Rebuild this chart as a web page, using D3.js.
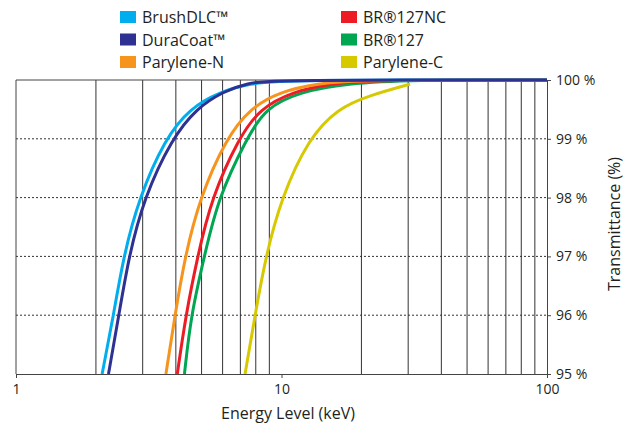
<!DOCTYPE html>
<html>
<head>
<meta charset="utf-8">
<script src="https://cdn.jsdelivr.net/npm/d3@7"></script>
<style>
  body { margin: 0; background: #fff; }
  text { font-family: "Open Sans", "Noto Sans", sans-serif; fill: #231f20; }
</style>
</head>
<body>
<script>
var width = 631,
    height = 428,
    margin = { top: 80, right: 84, bottom: 54, left: 16 };

// series names, in legend order (left column then right column)
var seriesNames = ["BrushDLC™", "DuraCoat™", "Parylene-N", "BR®127NC", "BR®127", "Parylene-C"];

// energy (keV) and transmittance (%)
var brushEnergy = [2.11, 2.33, 2.54, 2.91, 3.64, 4.52, 5.87, 7.61, 10.1, 100];
var brushTrans  = [95, 96, 97, 98, 99, 99.52, 99.80, 99.94, 100, 100];

var duraEnergy = [2.23, 2.44, 2.66, 3.04, 3.86, 4.79, 6.02, 7.41, 9.5, 100];
var duraTrans  = [95, 96, 97, 98, 99, 99.52, 99.80, 99.95, 100, 100];

var paryNEnergy = [3.67, 3.97, 4.33, 4.93, 6.18, 7.61, 9.87, 13.6, 19.8, 100];
var paryNTrans  = [95, 96, 97, 98, 99, 99.52, 99.80, 99.94, 100, 100];

var br127ncEnergy = [4.05, 4.36, 4.83, 5.46, 6.88, 8.30, 11.05, 15.2, 23.5, 100];
var br127ncTrans  = [95, 96, 97, 98, 99, 99.52, 99.80, 99.94, 100, 100];

var br127Energy = [4.31, 4.56, 5.12, 5.78, 7.39, 8.67, 11.74, 17.6, 30.5, 100];
var br127Trans  = [95, 96, 97, 98, 99, 99.52, 99.80, 99.94, 100, 100];

var paryCEnergy = [7.29, 7.95, 8.72, 10.0, 12.62, 16.3, 21.5, 30.5];
var paryCTrans  = [95, 96, 97, 98, 99, 99.52, 99.74, 99.93];

var xTicks = [1, 10, 100];
var yTicks = [95, 96, 97, 98, 99, 100];

var series = [
  { name: seriesNames[0], e: brushEnergy, t: brushTrans },
  { name: seriesNames[1], e: duraEnergy, t: duraTrans },
  { name: seriesNames[2], e: paryNEnergy, t: paryNTrans },
  { name: seriesNames[3], e: br127ncEnergy, t: br127ncTrans },
  { name: seriesNames[4], e: br127Energy, t: br127Trans },
  { name: seriesNames[5], e: paryCEnergy, t: paryCTrans }
];
var colors = ["#00aeef", "#2e3192", "#f7941d", "#ed1c24", "#00a651", "#d7c900"];

var svg = d3.select("body").append("svg")
    .attr("width", width)
    .attr("height", height);

var x = d3.scaleLog().domain([1, 100]).range([margin.left, width - margin.right]),
    y = d3.scaleLinear().domain([95, 100]).range([height - margin.bottom, margin.top]);

// vertical grid (minor decades)
var minor = d3.range(2, 10).concat(d3.range(20, 100, 10));
svg.append("g").selectAll("line")
    .data(minor)
  .enter().append("line")
    .attr("x1", function(d) { return x(d); })
    .attr("x2", function(d) { return x(d); })
    .attr("y1", y(95))
    .attr("y2", y(100))
    .attr("stroke", "#333")
    .attr("stroke-width", 1);

// horizontal dotted grid
svg.append("g").selectAll("line")
    .data([96, 97, 98, 99])
  .enter().append("line")
    .attr("x1", x(1))
    .attr("x2", x(100))
    .attr("y1", function(d) { return y(d); })
    .attr("y2", function(d) { return y(d); })
    .attr("stroke", "#333")
    .attr("stroke-width", 1)
    .attr("stroke-dasharray", "2,2");

// frame: left and top
svg.append("path")
    .attr("d", "M" + x(1) + "," + y(95) + "V" + y(100) + "H" + x(100))
    .attr("fill", "none")
    .attr("stroke", "#444")
    .attr("stroke-width", 1);

// curves
var line = d3.line()
    .x(function(d) { return x(d[0]); })
    .y(function(d) { return y(d[1]); })
    .curve(d3.curveBasis);

var drawOrder = [5, 4, 3, 2, 0, 1];
svg.append("g").selectAll("path")
    .data(drawOrder)
  .enter().append("path")
    .attr("d", function(i) { return line(d3.zip(series[i].e, series[i].t)); })
    .attr("fill", "none")
    .attr("stroke", function(i) { return colors[i]; })
    .attr("stroke-width", 3);

// axes
var xAxis = svg.append("g")
    .attr("transform", "translate(0," + y(95) + ")")
    .call(d3.axisBottom(x).tickValues(xTicks).tickFormat(d3.format("d")).tickSize(4).tickSizeOuter(0));
xAxis.select(".domain").attr("stroke", "#444");
xAxis.selectAll(".tick line").attr("stroke", "#444");
xAxis.selectAll("text").attr("font-size", 14).attr("dy", "0.95em").attr("fill", "#231f20");

var yAxis = svg.append("g")
    .attr("transform", "translate(" + x(100) + ",0)")
    .call(d3.axisRight(y).tickValues(yTicks).tickFormat(function(d) { return d + " %"; }).tickSize(4).tickSizeOuter(0));
yAxis.select(".domain").attr("stroke", "#444");
yAxis.selectAll(".tick line").attr("stroke", "#444");
yAxis.selectAll("text").attr("font-size", 14).attr("x", 9).attr("fill", "#231f20");

svg.append("text")
    .attr("x", 288)
    .attr("y", 419)
    .attr("text-anchor", "middle")
    .attr("font-size", 16)
    .text("Energy Level (keV)");

svg.append("text")
    .attr("transform", "translate(620,224) rotate(-90)")
    .attr("text-anchor", "middle")
    .attr("font-size", 16)
    .text("Transmittance (%)");

// legend
var legend = svg.append("g").selectAll("g")
    .data(series)
  .enter().append("g")
    .attr("transform", function(d, i) {
      return "translate(" + (i < 3 ? 120 : 341) + "," + (17 + (i % 3) * 22.5) + ")";
    });
legend.append("rect")
    .attr("x", 0).attr("y", -6)
    .attr("width", 16).attr("height", 12)
    .attr("fill", function(d, i) { return colors[i]; });
legend.append("text")
    .attr("x", 22)
    .attr("y", 6)
    .attr("font-size", 16)
    .text(function(d) { return d.name; });
</script>
</body>
</html>
